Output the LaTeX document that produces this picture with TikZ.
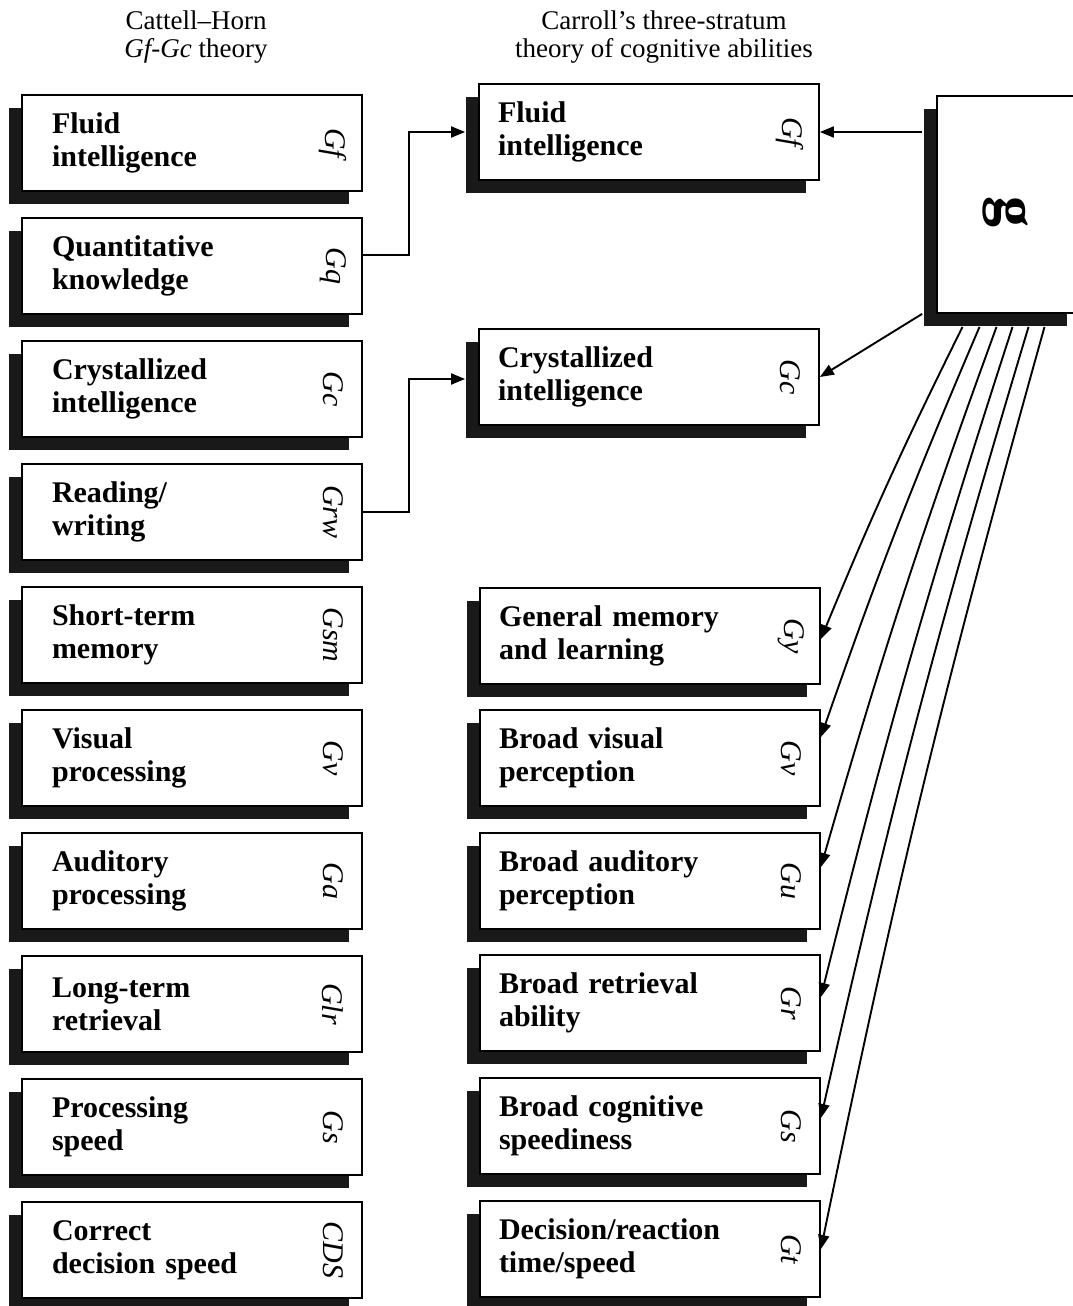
\documentclass[tikz,border=0pt]{standalone}
\usepackage{fontspec}
\setmainfont{Liberation Serif}
\usetikzlibrary{shadows,arrows.meta}

\begin{document}
\begin{tikzpicture}[x=1pt,y=-1pt,
  frame/.style={draw,line width=1.8pt,fill=white,inner ysep=0pt,
    drop shadow={shadow xshift=-13.5pt,shadow yshift=-12.5pt,fill=black!90,opacity=1}},
  box/.style={frame,minimum width=340pt,minimum height=96pt,align=left,
    text width=280pt,inner xsep=30pt,font=\bfseries\fontsize{30}{33}\selectfont},
  midbox/.style={box,text width=302pt,inner xsep=19pt},
  abbr/.style={rotate=-90,inner sep=0pt,font=\itshape\fontsize{30}{30}\selectfont},
  conn/.style={line width=1.9pt,-{Triangle[length=14pt,width=11pt]}},
  head/.style={align=center,font=\fontsize{27}{28}\selectfont}]
\useasboundingbox (0,0) rectangle (1073,1306);

% Headings
\node[head] (chhead) at (196,37) {Cattell–Horn\\\textit{Gf-Gc} theory};
\node[head] (cahead) at (664,37) {Carroll’s three-stratum\\theory of cognitive abilities};

% Cattell-Horn column
\node[box] (chf) at (192,143) {Fluid\\intelligence};
\node[box] (chq) at (192,266) {Quantitative\\knowledge};
\node[box] (chc) at (192,389) {Crystallized\\intelligence};
\node[box] (chrw) at (192,512) {Reading/\\writing};
\node[box] (chsm) at (192,635) {Short-term\\memory};
\node[box] (chv) at (192,758) {Visual\\processing};
\node[box] (cha) at (192,881) {Auditory\\processing};
\node[box] (chlr) at (192,1004) {Long-term\\retrieval};
\node[box] (chs) at (192,1127) {Processing\\speed};
\node[box] (chcds) at (192,1250) {Correct\\decision speed};

\node[abbr] (chfab) at ([xshift=-30pt]chf.east) {Gf};
\node[abbr] (chqab) at ([xshift=-30pt]chq.east) {Gq};
\node[abbr] (chcab) at ([xshift=-30pt]chc.east) {Gc};
\node[abbr] (chrwab) at ([xshift=-30pt]chrw.east) {Grw};
\node[abbr] (chsmab) at ([xshift=-30pt]chsm.east) {Gsm};
\node[abbr] (chvab) at ([xshift=-30pt]chv.east) {Gv};
\node[abbr] (chaab) at ([xshift=-30pt]cha.east) {Ga};
\node[abbr] (chlrab) at ([xshift=-30pt]chlr.east) {Glr};
\node[abbr] (chsab) at ([xshift=-30pt]chs.east) {Gs};
\node[abbr] (chcdsab) at ([xshift=-30pt]chcds.east) {CDS};

% Carroll column
\node[midbox] (caf) at (649,132) {Fluid\\intelligence};
\node[midbox] (cac) at (649,377) {Crystallized\\intelligence};
\node[midbox] (cagy) at (650,636) {General memory\\and learning};
\node[midbox] (cagv) at (650,758) {Broad visual\\perception};
\node[midbox] (cagu) at (650,881) {Broad auditory\\perception};
\node[midbox] (cagr) at (650,1003) {Broad retrieval\\ability};
\node[midbox] (cags) at (650,1126) {Broad cognitive\\speediness};
\node[midbox] (cagt) at (650,1249) {Decision/reaction\\time/speed};

\node[abbr] (cafab) at ([xshift=-30pt]caf.east) {Gf};
\node[abbr] (cacab) at ([xshift=-30pt]cac.east) {Gc};
\node[abbr] (cagyab) at ([xshift=-30pt]cagy.east) {Gy};
\node[abbr] (cagvab) at ([xshift=-30pt]cagv.east) {Gv};
\node[abbr] (caguab) at ([xshift=-30pt]cagu.east) {Gu};
\node[abbr] (cagrab) at ([xshift=-30pt]cagr.east) {Gr};
\node[abbr] (cagsab) at ([xshift=-30pt]cags.east) {Gs};
\node[abbr] (cagtab) at ([xshift=-30pt]cagt.east) {Gt};

% General factor
\node[frame,minimum width=143pt,minimum height=217pt] (gbox) at (1008.5,204.5) {};
\node[rotate=-90,font=\bfseries\fontsize{62}{62}\selectfont] (gsym) at (1006,212) {g};
\coordinate (gleft) at ([xshift=-14pt]gbox.west);

% Links between the two theories
\draw[conn] ([yshift=11pt]chq.east) -- ++(46,0) |- ([xshift=-13pt]caf.west);
\draw[conn] (chrw.east) -- ++(46,0) |- ([xshift=-13pt,yshift=-2pt]cac.west);

% Arrows from g
\draw[conn] (gleft |- caf.east) -- (caf.east);
\draw[conn] (gleft |- gbox.south) -- (cac.east);
\foreach \t/\dx/\dy in {cagy/-46/-3, cagv/-29/21, cagu/-12/14, cagr/4/6, cags/20/8, cagt/36/0}
  \draw[conn] ([xshift=\dx pt,yshift=-13pt]gbox.south) to[bend right=2] ([yshift=\dy pt]\t.east);
\end{tikzpicture}
\end{document}
